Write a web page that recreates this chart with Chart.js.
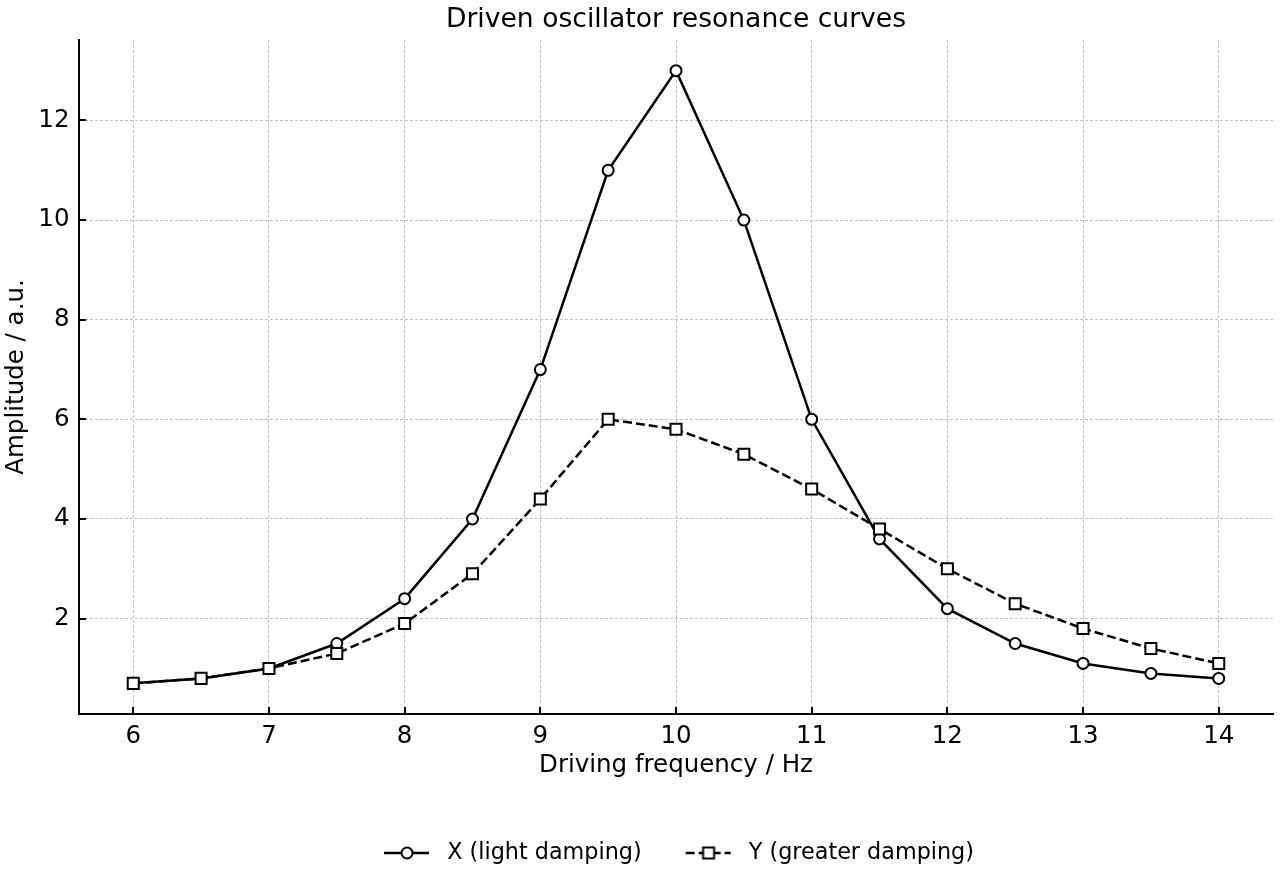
<!DOCTYPE html>
<html>
<head>
<meta charset="utf-8">
<script src="https://cdn.jsdelivr.net/npm/chart.js@4/dist/chart.umd.min.js"></script>
<style>
  html, body { margin: 0; padding: 0; background: #fff; }
  #wrap { width: 1280px; height: 880px; }
</style>
</head>
<body>
<div id="wrap"><canvas id="chart1"></canvas></div>
<script>
// data
var freq = [6, 6.5, 7, 7.5, 8, 8.5, 9, 9.5, 10, 10.5, 11, 11.5, 12, 12.5, 13, 13.5, 14];
var ampX = [0.7, 0.8, 1.0, 1.5, 2.4, 4.0, 7.0, 11.0, 13.0, 10.0, 6.0, 3.6, 2.2, 1.5, 1.1, 0.9, 0.8];
var ampY = [0.7, 0.8, 1.0, 1.3, 1.9, 2.9, 4.4, 6.0, 5.8, 5.3, 4.6, 3.8, 3.0, 2.3, 1.8, 1.4, 1.1];
var xTicks = [6, 7, 8, 9, 10, 11, 12, 13, 14];
var yTicks = [2, 4, 6, 8, 10, 12];
var labelX = 'X (light damping)';
var labelY = 'Y (greater damping)';

Chart.defaults.font.family = '"DejaVu Sans", sans-serif';
Chart.defaults.color = '#000';

var dashY = [9, 4];

function pts(ys) {
  return freq.map(function (f, i) { return { x: f, y: ys[i] }; });
}

// little line+marker swatches for the legend
function swatch(kind, dashed) {
  var c = document.createElement('canvas');
  c.width = 58; c.height = 18;
  var g = c.getContext('2d');
  g.strokeStyle = '#000';
  g.lineWidth = 2.5;
  g.setLineDash(dashed ? dashY : []);
  g.beginPath(); g.moveTo(6, 9); g.lineTo(51, 9); g.stroke();
  g.setLineDash([]);
  g.lineWidth = 2;
  g.fillStyle = '#fff';
  g.beginPath();
  if (kind === 'circle') g.arc(29, 9, 5.5, 0, Math.PI * 2);
  else g.rect(23.5, 3.5, 11, 11);
  g.fill(); g.stroke();
  return c;
}
var swX = swatch('circle', false);
var swY = swatch('rect', true);

var inwardTicks = {
  id: 'inwardTicks',
  afterDraw: function (chart) {
    var g = chart.ctx, a = chart.chartArea;
    var xs = chart.scales.x, ys = chart.scales.y;
    g.save();
    g.strokeStyle = '#000';
    g.lineWidth = 2;
    xTicks.forEach(function (v) {
      var p = Math.round(xs.getPixelForValue(v));
      g.beginPath(); g.moveTo(p, a.bottom); g.lineTo(p, a.bottom - 7); g.stroke();
    });
    yTicks.forEach(function (v) {
      var p = Math.round(ys.getPixelForValue(v));
      g.beginPath(); g.moveTo(a.left, p); g.lineTo(a.left + 7, p); g.stroke();
    });
    g.restore();
  }
};

var ctx = document.getElementById('chart1').getContext('2d');
var chart = new Chart(ctx, {
  type: 'line',
  data: {
    datasets: [{
      label: labelX,
      data: pts(ampX),
      borderColor: '#000',
      borderWidth: 2.5,
      pointStyle: 'circle',
      pointRadius: 5.5,
      pointBorderWidth: 2,
      pointBackgroundColor: '#fff',
      pointBorderColor: '#000',
      tension: 0,
      fill: false,
      order: 1
    }, {
      label: labelY,
      data: pts(ampY),
      borderColor: '#000',
      borderWidth: 2.5,
      borderDash: dashY,
      pointStyle: 'rect',
      pointRadius: 7.8,
      pointBorderWidth: 2,
      pointBackgroundColor: '#fff',
      pointBorderColor: '#000',
      tension: 0,
      fill: false,
      order: 0
    }]
  },
  options: {
    responsive: true,
    maintainAspectRatio: false,
    animation: false,
    layout: { autoPadding: false, padding: { left: 0, right: 7, top: 0, bottom: 5.85 } },
    scales: {
      x: {
        type: 'linear',
        min: 5.6,
        max: 14.4,
        afterBuildTicks: function (s) { s.ticks = xTicks.map(function (v) { return { value: v }; }); },
        afterFit: function (s) { s.height = 89.85; s.paddingLeft = 0; s.paddingRight = 0; },
        ticks: { font: { size: 24.5 }, padding: 8, maxRotation: 0 },
        grid: { color: '#c0c0c0', lineWidth: 1, drawTicks: false },
        border: { display: true, color: '#000', width: 2, dash: [3, 2] },
        title: { display: true, text: 'Driving frequency / Hz', font: { size: 24.5 }, padding: { top: 0, bottom: 23.15 } }
      },
      y: {
        type: 'linear',
        min: 0.085,
        max: 13.615,
        afterBuildTicks: function (s) { s.ticks = yTicks.map(function (v) { return { value: v }; }); },
        afterFit: function (s) { s.width = 79; },
        ticks: { font: { size: 24.5 }, padding: 9.5 },
        grid: { color: '#c0c0c0', lineWidth: 1, drawTicks: false },
        border: { display: true, color: '#000', width: 2, dash: [3, 2] },
        title: { display: true, text: 'Amplitude / a.u.', font: { size: 24.5 }, padding: { top: 2.3, bottom: 0 } }
      }
    },
    plugins: {
      title: {
        display: true,
        text: 'Driven oscillator resonance curves',
        fullSize: false,
        font: { size: 26.6, weight: 'normal' },
        padding: { top: 4, bottom: 4.1 }
      },
      legend: {
        position: 'bottom',
        fullSize: false,
        labels: {
          usePointStyle: true,
          pointStyleWidth: 58,
          padding: 38,
          font: { size: 22.3 },
          generateLabels: function (c) {
            return [
              { text: labelX, pointStyle: swX, datasetIndex: 0, lineWidth: 0, fillStyle: '#fff', strokeStyle: '#000', fontColor: '#000', hidden: !c.isDatasetVisible(0) },
              { text: labelY, pointStyle: swY, datasetIndex: 1, lineWidth: 0, fillStyle: '#fff', strokeStyle: '#000', fontColor: '#000', hidden: !c.isDatasetVisible(1) }
            ];
          }
        }
      },
      tooltip: { enabled: false }
    }
  },
  plugins: [inwardTicks]
});
</script>
</body>
</html>
